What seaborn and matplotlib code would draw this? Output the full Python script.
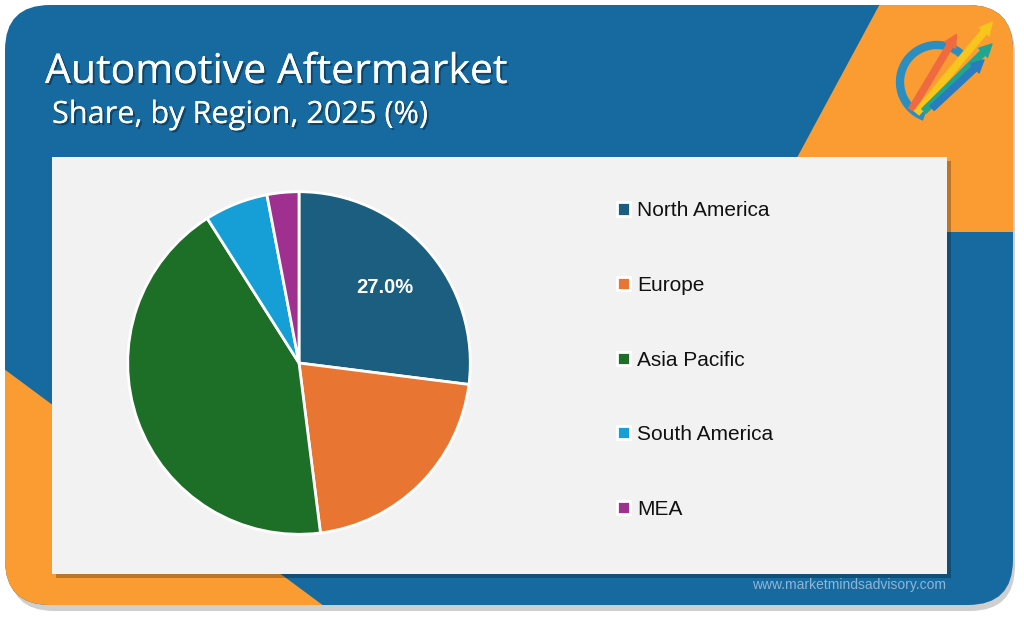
import matplotlib
matplotlib.use("Agg")
import matplotlib.pyplot as plt
import matplotlib.patches as mpatches
import matplotlib.patheffects as pe
import seaborn as sns

# ---- data ----
regions = ["North America", "Europe", "Asia Pacific", "South America", "MEA"]
shares = [27.0, 21.0, 43.0, 6.0, 3.0]
colors = ["#1b5e80", "#e87532", "#1d6e27", "#169fd6", "#a0308f"]
title = "Automotive Aftermarket"
subtitle = "Share, by Region, 2025 (%)"
website = "www.marketmindsadvisory.com"

sns.set_theme(style="white")
plt.rcParams["font.family"] = ["Liberation Sans", "DejaVu Sans"]

W, H = 1024, 617
fig = plt.figure(figsize=(W / 100, H / 100), dpi=100)
fig.patch.set_facecolor("white")

BLUE = "#176a9f"
ORANGE = "#fb9c33"

bg = fig.add_axes([0, 0, 1, 1])
bg.set_xlim(0, W)
bg.set_ylim(H, 0)
bg.axis("off")

# outer rounded panel with shadow
shadow = mpatches.FancyBboxPatch((9, 9), 1006, 602, boxstyle="round,pad=0,rounding_size=45",
                                 facecolor="#00000030", edgecolor="none", zorder=0)
bg.add_patch(shadow)
panel = mpatches.FancyBboxPatch((5, 5), 1008, 600, boxstyle="round,pad=0,rounding_size=45",
                                facecolor=BLUE, edgecolor="none", zorder=1)
bg.add_patch(panel)

# orange decorative shapes clipped to panel
tri1 = mpatches.Polygon([(882, 0), (1024, 0), (1024, 232), (757, 232)], closed=True,
                        facecolor=ORANGE, edgecolor="none", zorder=2)
bg.add_patch(tri1)
tri1.set_clip_path(panel)
tri2 = mpatches.Polygon([(0, 366), (332, 612), (0, 612)], closed=True,
                        facecolor=ORANGE, edgecolor="none", zorder=2)
bg.add_patch(tri2)
tri2.set_clip_path(panel)

# card with shadow
bg.add_patch(mpatches.Rectangle((56, 161), 895, 417, facecolor="#00000040", edgecolor="none", zorder=3))
bg.add_patch(mpatches.Rectangle((52, 157), 895, 417, facecolor="#f2f2f2", edgecolor="none", zorder=4))

# logo (simple arrows + arc)
bg.add_patch(mpatches.Arc((937, 82), 74, 74, theta1=110, theta2=320, color="#2a8fc0", lw=6, zorder=5))
for (x0, y0, x1, y1, c) in [(910, 112, 958, 32, "#f06a40"), (915, 115, 994, 20, "#f7c51b"),
                            (922, 113, 994, 42, "#22a58f"), (930, 110, 986, 58, "#2a7cc0")]:
    bg.add_patch(mpatches.FancyArrowPatch((x0, y0), (x1, y1),
                                          arrowstyle="simple,head_width=9,head_length=9,tail_width=4.5",
                                          color=c, zorder=6))

shadow_fx = [pe.withSimplePatchShadow(offset=(1.5, -1.5), shadow_rgbFace="black", alpha=0.35), pe.Normal()]
bg.text(45, 83, title, color="white", fontsize=29.5, fontfamily=["Open Sans", "DejaVu Sans"],
        va="baseline", ha="left", zorder=7, path_effects=shadow_fx)
bg.text(52, 123, subtitle, color="white", fontsize=22.1, fontfamily=["Open Sans", "DejaVu Sans"],
        va="baseline", ha="left", zorder=7, path_effects=shadow_fx)
bg.text(946, 585, website, color="#8fb6d3", fontsize=10, ha="right", va="center", zorder=7)

# pie
cx, cy, r = 299, 363, 173
ax = fig.add_axes([(cx - r) / W, (H - cy - r) / H, 2 * r / W, 2 * r / H])
ax.set_facecolor("none")
wedges, texts, autotexts = ax.pie(shares, colors=colors, startangle=90, counterclock=False,
                                  autopct="%1.1f%%", pctdistance=0.67,
                                  wedgeprops=dict(edgecolor="white", linewidth=2),
                                  textprops=dict(color="white", fontsize=14.5, fontweight="bold"))
for i, t in enumerate(autotexts):
    if i != 0:
        t.set_visible(False)
ax.set_xlim(-1.01, 1.01)
ax.set_ylim(-1.01, 1.01)
ax.axis("off")

# legend
leg = fig.legend(wedges, regions, loc="upper left", bbox_to_anchor=(609 / W, 1 - 193 / H),
                 frameon=False, fontsize=15, handlelength=0.6, handleheight=0.6,
                 handletextpad=0.35, labelspacing=2.67, borderaxespad=0)
for t in leg.get_texts():
    t.set_color("#111111")

fig.savefig("out.png", dpi=100, facecolor="white")
